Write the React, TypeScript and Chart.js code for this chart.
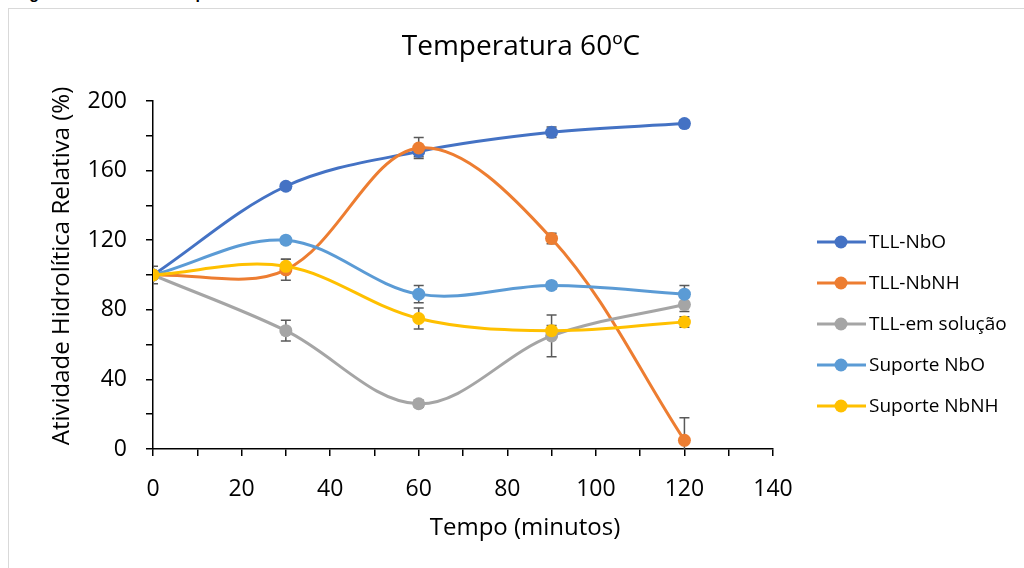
import { useEffect, useRef } from "react";
import { Chart, registerables } from "chart.js";

Chart.register(...registerables);

// Sampling times (minutes)
const times = [0, 30, 60, 90, 120];

// Series names
const seriesNames = ["TLL-NbO", "TLL-NbNH", "TLL-em solução", "Suporte NbO", "Suporte NbNH"];

// Relative hydrolytic activity (%) per series
const tllNbO = [100, 151, 171, 182, 187];
const tllNbNH = [100, 103, 173, 121, 5];
const tllSolucao = [100, 68, 26, 65, 83];
const suporteNbO = [100, 120, 89, 94, 89];
const suporteNbNH = [100, 105, 75, 68, 73];

// Standard deviations per series
const errTllNbO = [0, 2, 3, 3, 2];
const errTllNbNH = [0, 6, 6, 3, 13];
const errTllSolucao = [5, 6, 2, 12, 4];
const errSuporteNbO = [0, 2, 5, 2, 5];
const errSuporteNbNH = [0, 4, 6, 3, 3];

// Axis ranges
const xMin = 0;
const xMax = 140;
const xStep = 10;
const xLabelStep = 20;
const yMin = 0;
const yMax = 200;
const yStep = 20;
const yLabelStep = 40;

const chartTitle = "Temperatura 60ºC";
const xTitle = "Tempo (minutos)";
const yTitle = "Atividade Hidrolítica Relativa (%)";
const caption = "Figura 6 – Efeito da temperatura sobre a estabilidade dos biocatalisadores";

const colors = ["#4472C4", "#ED7D31", "#A5A5A5", "#5B9BD5", "#FFC000"];
const values = [tllNbO, tllNbNH, tllSolucao, suporteNbO, suporteNbNH];
const errors = [errTllNbO, errTllNbNH, errTllSolucao, errSuporteNbO, errSuporteNbNH];

const FONT = "'Open Sans', sans-serif";

const errorBarPlugin = {
  id: "errorBars",
  beforeDatasetsDraw(chart: any) {
    const { ctx, chartArea, scales } = chart;
    const x = scales.x;
    const y = scales.y;
    ctx.save();
    ctx.beginPath();
    ctx.rect(chartArea.left, chartArea.top - 20, chartArea.right - chartArea.left, chartArea.bottom - chartArea.top + 20);
    ctx.clip();
    ctx.strokeStyle = "#595959";
    ctx.lineWidth = 1.5;
    chart.data.datasets.forEach((ds: any, i: number) => {
      const errs = errors[i];
      ds.data.forEach((pt: any, j: number) => {
        const e = errs[j];
        if (!e) return;
        const px = x.getPixelForValue(pt.x);
        const top = y.getPixelForValue(pt.y + e);
        const bot = y.getPixelForValue(pt.y - e);
        ctx.beginPath();
        ctx.moveTo(px, top);
        ctx.lineTo(px, bot);
        ctx.moveTo(px - 5, top);
        ctx.lineTo(px + 5, top);
        ctx.moveTo(px - 5, bot);
        ctx.lineTo(px + 5, bot);
        ctx.stroke();
      });
    });
    ctx.restore();
  },
};

const textPlugin = {
  id: "chartTexts",
  afterDraw(chart: any) {
    const { ctx } = chart;
    ctx.save();
    ctx.fillStyle = "#000";
    ctx.textAlign = "center";
    ctx.textBaseline = "middle";
    ctx.font = `28px ${FONT}`;
    ctx.fillText(chartTitle, 521, 47);
    ctx.font = `24px ${FONT}`;
    ctx.fillText(xTitle, 525, 528);
    ctx.translate(62, 266);
    ctx.rotate(-Math.PI / 2);
    ctx.fillText(yTitle, 0, 0);
    ctx.restore();

    // legend: line with a marker, followed by the series name
    ctx.save();
    ctx.font = `19px ${FONT}`;
    ctx.textBaseline = "middle";
    ctx.textAlign = "left";
    chart.data.datasets.forEach((ds: any, i: number) => {
      const cy = 242 + i * 41;
      ctx.strokeStyle = ds.borderColor;
      ctx.lineWidth = 3;
      ctx.beginPath();
      ctx.moveTo(817, cy);
      ctx.lineTo(866, cy);
      ctx.stroke();
      ctx.fillStyle = ds.borderColor;
      ctx.beginPath();
      ctx.arc(841, cy, 6.5, 0, Math.PI * 2);
      ctx.fill();
      ctx.fillStyle = "#000";
      ctx.fillText(ds.label, 869, cy + 1);
    });
    ctx.restore();
  },
};

export default function App() {
  const canvasRef = useRef<HTMLCanvasElement | null>(null);

  useEffect(() => {
    if (!canvasRef.current) return;
    const datasets = seriesNames.map((name, i) => ({
      label: name,
      data: times.map((t, j) => ({ x: t, y: values[i][j] })),
      borderColor: colors[i],
      backgroundColor: colors[i],
      pointBackgroundColor: colors[i],
      pointBorderWidth: 0,
      pointRadius: 6.5,
      borderWidth: 3,
      tension: 0.35,
      fill: false,
      order: seriesNames.length - 1 - i,
    }));

    const chart = new Chart(canvasRef.current, {
      type: "line",
      data: { datasets },
      plugins: [errorBarPlugin, textPlugin],
      options: {
        animation: false,
        responsive: false,
        devicePixelRatio: 1,
        layout: { padding: { left: 0, right: 251, top: 101, bottom: 0 } },
        plugins: { legend: { display: false }, tooltip: { enabled: false }, title: { display: false } },
        scales: {
          x: {
            type: "linear",
            min: xMin,
            max: xMax,
            afterFit: (s: any) => {
              s.height = 119;
            },
            ticks: {
              stepSize: xStep,
              autoSkip: false,
              maxRotation: 0,
              padding: 20,
              color: "#000",
              font: { family: FONT, size: 23 },
              callback: (v: any) => (Number(v) % xLabelStep === 0 ? String(v) : ""),
            },
            grid: { drawOnChartArea: false, drawTicks: true, tickLength: 7, color: "#000", lineWidth: 1.5 },
            border: { display: true, color: "#000", width: 1.5 },
          },
          y: {
            type: "linear",
            min: yMin,
            max: yMax,
            afterFit: (s: any) => {
              s.width = 153;
            },
            ticks: {
              stepSize: yStep,
              autoSkip: false,
              padding: 19,
              color: "#000",
              font: { family: FONT, size: 23 },
              callback: (v: any) => (Number(v) % yLabelStep === 0 ? String(v) : ""),
            },
            grid: { drawOnChartArea: false, drawTicks: true, tickLength: 7, color: "#000", lineWidth: 1.5 },
            border: { display: true, color: "#000", width: 1.5 },
          },
        },
      },
    } as any);
    return () => chart.destroy();
  }, []);

  return (
    <div
      style={{
        position: "absolute",
        left: 0,
        top: 0,
        width: 1024,
        height: 568,
        overflow: "hidden",
        background: "#fff",
      }}
    >
      <div
        style={{
          position: "absolute",
          left: 15,
          top: -15,
          whiteSpace: "nowrap",
          font: "bold 16px 'Liberation Sans', Arial, sans-serif",
          lineHeight: "18px",
          color: "#000",
        }}
      >
        {caption}
      </div>
      <div
        style={{
          position: "absolute",
          left: 8,
          top: 8,
          width: 1100,
          height: 700,
          border: "1px solid #d9d9d9",
          background: "#fff",
        }}
      />
      <canvas ref={canvasRef} width={1024} height={568} style={{ position: "absolute", left: 0, top: 0 }} />
    </div>
  );
}
